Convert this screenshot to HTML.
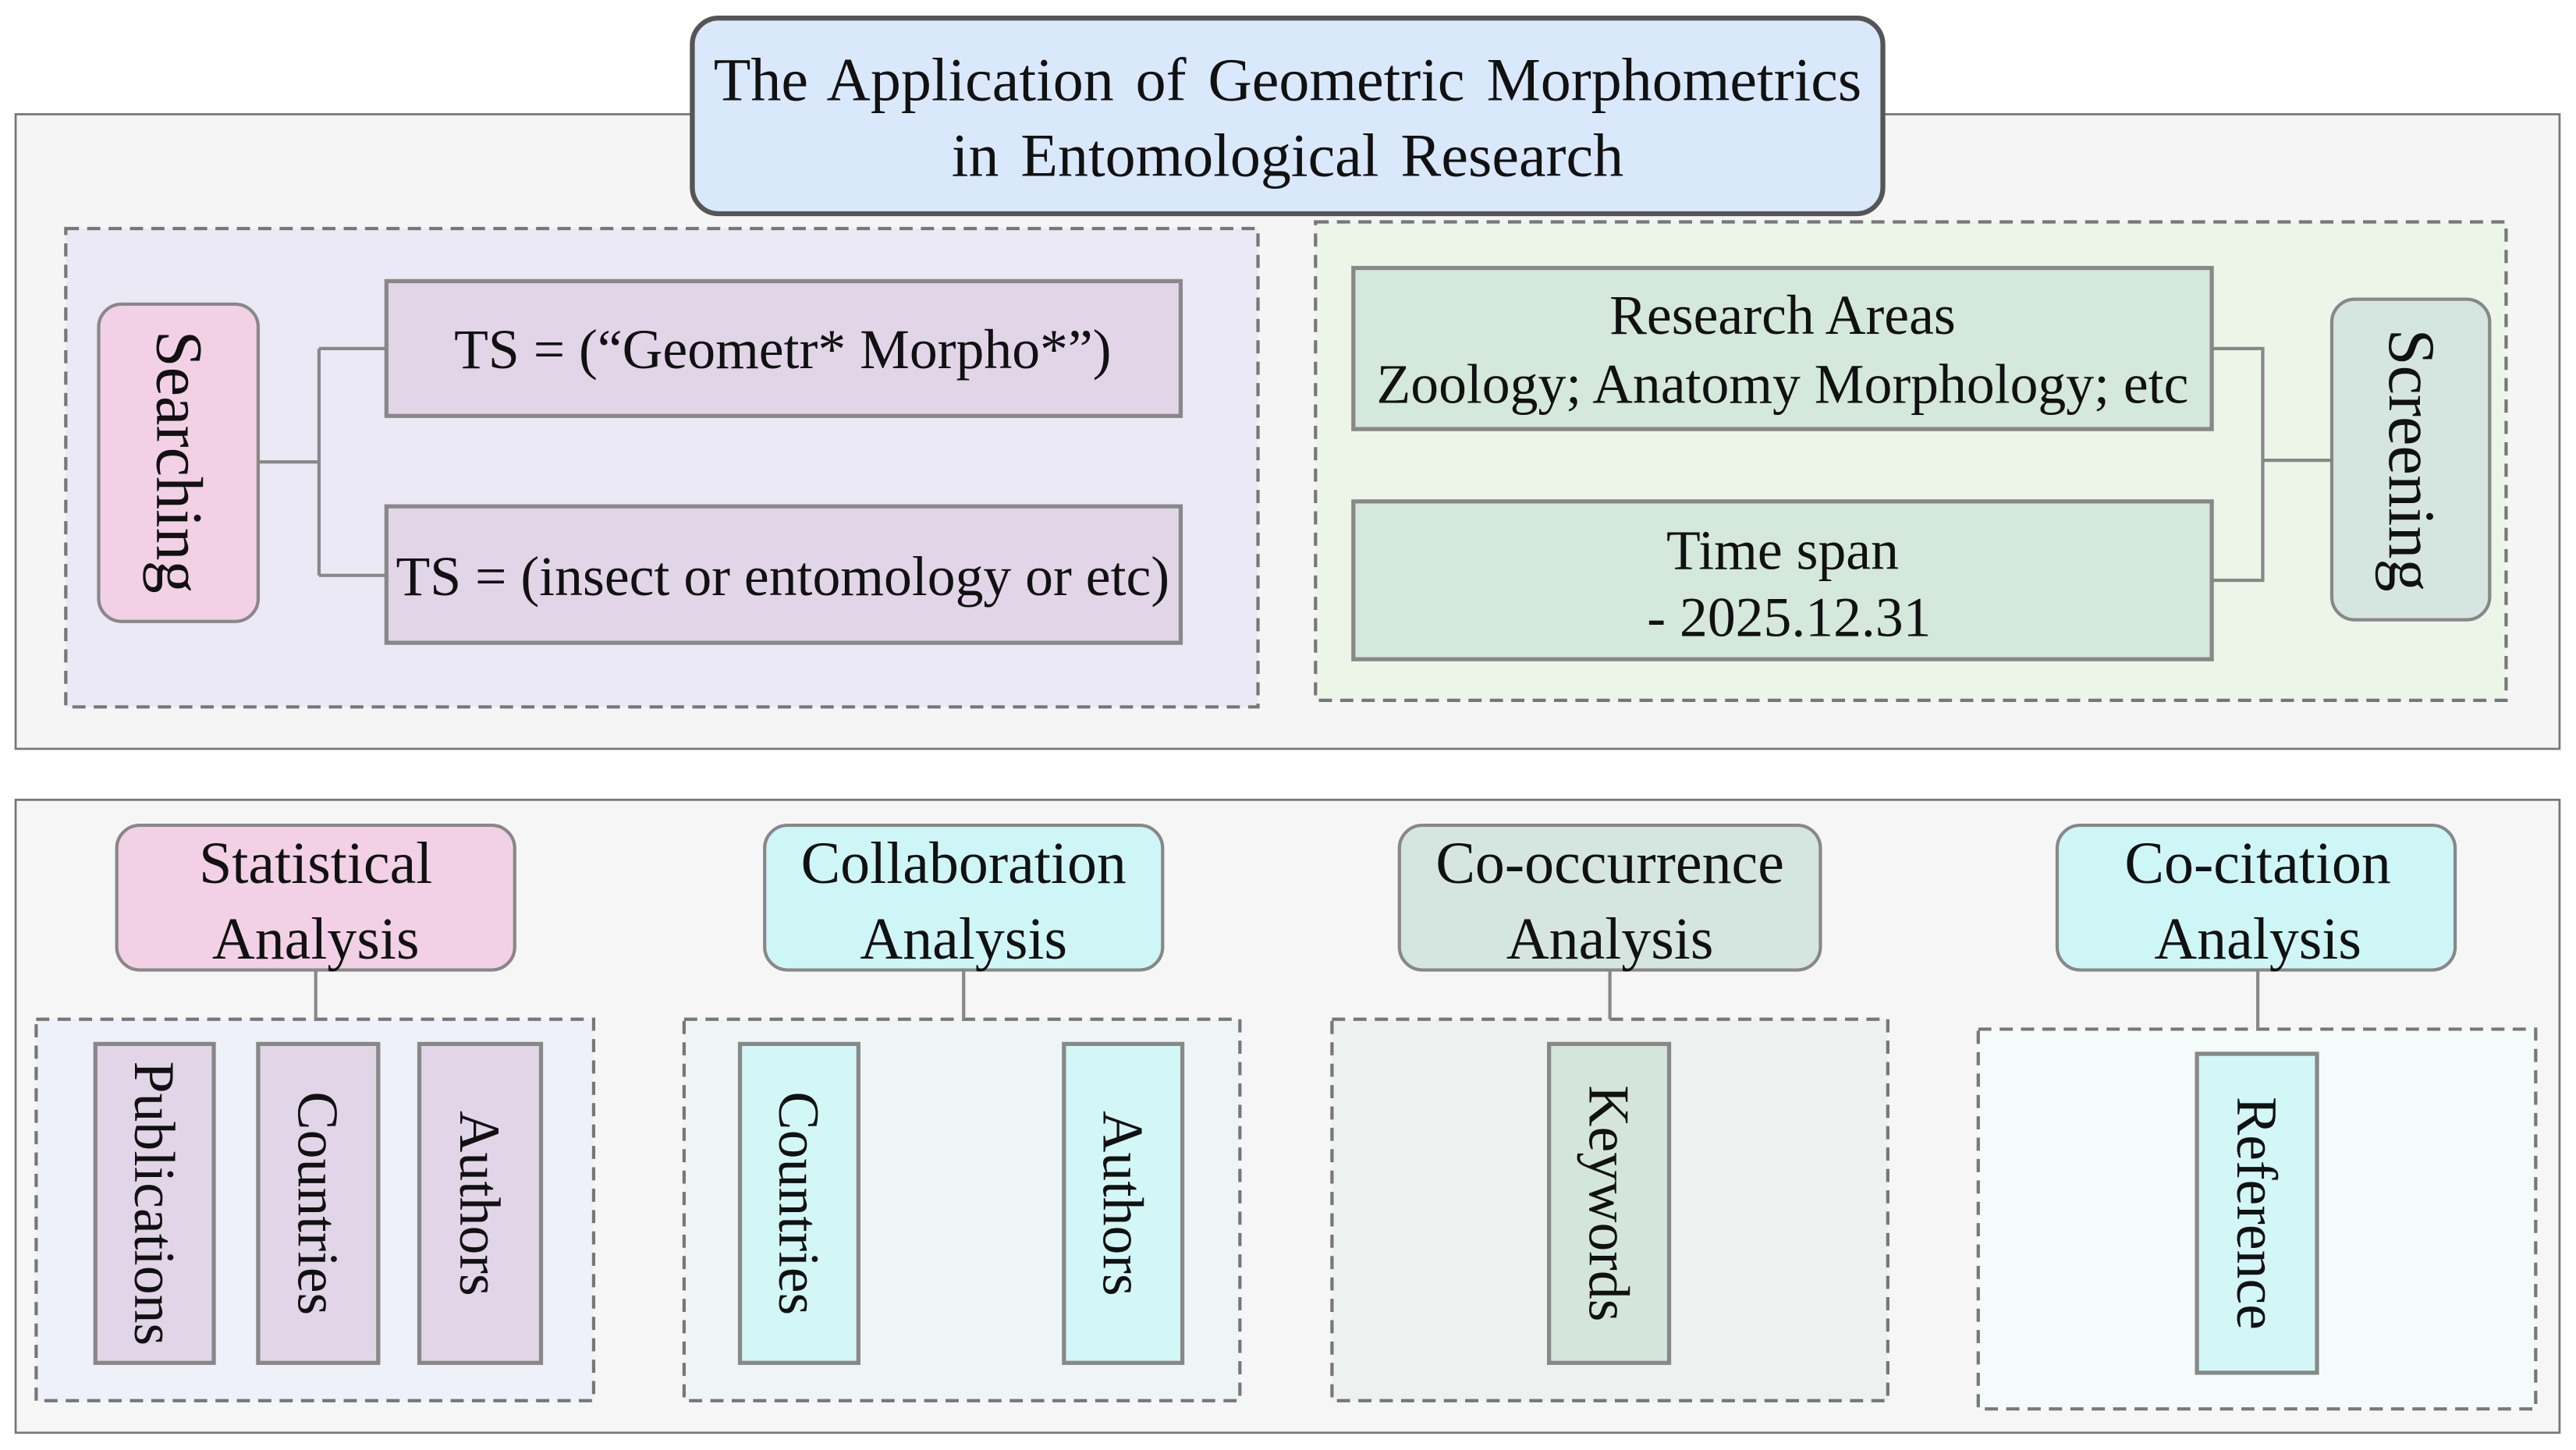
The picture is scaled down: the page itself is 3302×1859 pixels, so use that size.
<!DOCTYPE html>
<html><head><meta charset="utf-8"><style>html,body{margin:0;padding:0;background:#fff}svg{display:block}text{font-family:"Liberation Serif",serif;fill:#111}</style></head>
<body>
<svg width="3302" height="1859" viewBox="0 0 1566.5 882" preserveAspectRatio="none" xmlns="http://www.w3.org/2000/svg">
<rect width="1567" height="882" fill="#fff"/>
<rect x="9.5" y="69.5" width="1547" height="386" fill="#f5f5f5" stroke="#777" stroke-width="1.3"/>
<rect x="40" y="139" width="725" height="291" fill="#ece9f6" stroke="#777" stroke-width="2" stroke-dasharray="8,5"/>
<rect x="800" y="135" width="724" height="291" fill="#ebf6e9" stroke="#777" stroke-width="2" stroke-dasharray="8,5"/>
<rect x="421" y="11" width="724" height="119" rx="16" fill="#dae8fc" stroke="#555" stroke-width="3"/>
<text x="783" y="61" font-size="37" text-anchor="middle" word-spacing="4">The Application of Geometric Morphometrics</text>
<text x="783" y="107" font-size="37" text-anchor="middle" word-spacing="4">in Entomological Research</text>
<g stroke="#888" stroke-width="2" fill="none"><path d="M157 281H194M194 212V350M194 212H235M194 350H235"/><path d="M1345 212H1376V353H1345M1376 280H1418"/></g>
<rect x="60" y="185" width="97" height="193" rx="14" fill="#f2d1e6" stroke="#888" stroke-width="2"/>
<text transform="translate(108.5 281) rotate(90)" font-size="40" text-anchor="middle" dy="13">Searching</text>
<rect x="235" y="171" width="483" height="82" fill="#e2d5e8" stroke="#888" stroke-width="2.5"/>
<text x="476" y="224" font-size="34" text-anchor="middle">TS = (“Geometr* Morpho*”)</text>
<rect x="235" y="308" width="483" height="83" fill="#e2d5e8" stroke="#888" stroke-width="2.5"/>
<text x="476" y="362" font-size="34" text-anchor="middle">TS = (insect or entomology or etc)</text>
<rect x="823" y="163" width="522" height="98" fill="#d4e8dc" stroke="#888" stroke-width="2.5"/>
<text x="1084" y="203" font-size="34" text-anchor="middle">Research Areas</text>
<text x="1084" y="245" font-size="34" text-anchor="middle">Zoology; Anatomy Morphology; etc</text>
<rect x="823" y="305" width="522" height="96" fill="#d4e8dc" stroke="#888" stroke-width="2.5"/>
<text x="1084" y="346" font-size="34" text-anchor="middle">Time span</text>
<text x="1088" y="387" font-size="34" text-anchor="middle">- 2025.12.31</text>
<rect x="1418" y="182" width="96" height="195" rx="14" fill="#d5e6e0" stroke="#888" stroke-width="2"/>
<text transform="translate(1466 280) rotate(90)" font-size="40" text-anchor="middle" dy="13">Screening</text>
<rect x="9.5" y="486.5" width="1547" height="385" fill="#f6f6f6" stroke="#777" stroke-width="1.3"/>
<g stroke="#777" stroke-width="2" stroke-dasharray="8,5">
<rect x="22" y="620" width="339" height="232" fill="#eef1f9"/>
<rect x="416" y="620" width="338" height="232" fill="#eef5f6"/>
<rect x="810" y="620" width="338" height="232" fill="#edf1f0"/>
<rect x="1203" y="626" width="339" height="231" fill="#f4fbfb"/>
</g>
<g stroke="#888" stroke-width="2"><path d="M192 590V620M586 590V620M979 590V620M1373 590V626"/></g>
<g stroke="#888" stroke-width="2">
<rect x="71" y="502" width="242" height="88" rx="14" fill="#f2d1e6"/>
<rect x="465" y="502" width="242" height="88" rx="14" fill="#cff6f6"/>
<rect x="851" y="502" width="256" height="88" rx="14" fill="#d5e6e0"/>
<rect x="1251" y="502" width="242" height="88" rx="14" fill="#cff6f6"/>
</g>
<g font-size="36" text-anchor="middle">
<text x="192" y="537">Statistical</text><text x="192" y="583">Analysis</text>
<text x="586" y="537">Collaboration</text><text x="586" y="583">Analysis</text>
<text x="979" y="537">Co-occurrence</text><text x="979" y="583">Analysis</text>
<text x="1373" y="537">Co-citation</text><text x="1373" y="583">Analysis</text>
</g>
<g stroke="#888" stroke-width="2.5">
<rect x="58" y="635" width="72" height="194" fill="#e2d5e8"/>
<rect x="157" y="635" width="73" height="194" fill="#e2d5e8"/>
<rect x="255" y="635" width="74" height="194" fill="#e2d5e8"/>
<rect x="450" y="635" width="72" height="194" fill="#d3f7f7"/>
<rect x="647" y="635" width="72" height="194" fill="#d3f7f7"/>
<rect x="942" y="635" width="73" height="194" fill="#d4e6dc"/>
<rect x="1336" y="641" width="73" height="194" fill="#d3f7f7"/>
</g>
<g font-size="35" text-anchor="middle">
<text transform="translate(94 732) rotate(90)" dy="12">Publications</text>
<text transform="translate(193.5 732) rotate(90)" dy="12">Countries</text>
<text transform="translate(292 732) rotate(90)" dy="12">Authors</text>
<text transform="translate(486 732) rotate(90)" dy="12">Countries</text>
<text transform="translate(683 732) rotate(90)" dy="12">Authors</text>
<text transform="translate(978.5 732) rotate(90)" dy="12">Keywords</text>
<text transform="translate(1372.5 738) rotate(90)" dy="12">Reference</text>
</g>
</svg>
</body></html>
